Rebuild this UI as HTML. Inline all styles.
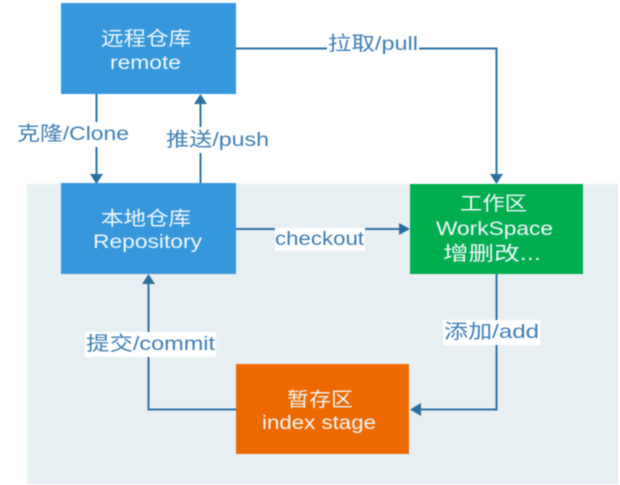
<!DOCTYPE html>
<html>
<head>
<meta charset="utf-8">
<style>
html,body{margin:0;padding:0;background:#fff}
svg{display:block;filter:blur(.5px)}
text{font-family:"Liberation Sans","Noto Sans CJK SC",sans-serif;font-size:19.500px;text-anchor:start}
.n{fill:#f0f6fb}
.l{fill:#3f7fb5}
</style>
</head>
<body>
<svg width="620" height="485" viewBox="0 0 620 485" xmlns="http://www.w3.org/2000/svg">
<rect width="620" height="485" fill="#fff"/>
<rect x="27" y="184" width="591" height="300" fill="#e8eff3"/>

<rect x="61" y="3" width="175" height="91" fill="#3797dc"/>
<rect x="61" y="183" width="175" height="91" fill="#3797dc"/>
<rect x="410" y="184" width="173" height="90" fill="#00ae50"/>
<rect x="236" y="364" width="173" height="90" fill="#ec6a00"/>

<g fill="none" stroke="#2f72a6" stroke-width="2">
<path d="M236 48.500H496.500V176"/>
<path d="M96.500 94V176"/>
<path d="M200.500 183V102"/>
<path d="M236 229H403"/>
<path d="M496.500 274V409.500H418"/>
<path d="M236 409.500H148.500V282"/>
</g>
<g fill="#2b6f9f">
<polygon points="496.500,184 490,174 503,174"/>
<polygon points="96.500,184 90,174 103,174"/>
<polygon points="200.500,94 194,104 207,104"/>
<polygon points="410,229 399,223 399,235"/>
<polygon points="410,409.500 421,403 421,416"/>
<polygon points="148.500,274 142,284 155,284"/>
</g>

<rect x="16" y="122" width="114" height="25" fill="#fff"/>
<rect x="165" y="127" width="106" height="26" fill="#fff"/>
<rect x="327" y="32" width="92" height="24" fill="#fff"/>
<rect x="275" y="228" width="90" height="23" fill="#fff"/>
<rect x="85" y="332" width="131" height="25" fill="#fff"/>
<rect x="443" y="320" width="97" height="25" fill="#fff"/>

<text class="n" x="101" y="45" textLength="90" lengthAdjust="spacingAndGlyphs">远程仓库</text>
<text class="n" x="110" y="69" textLength="71" lengthAdjust="spacingAndGlyphs">remote</text>
<text class="n" x="101" y="225" textLength="90" lengthAdjust="spacingAndGlyphs">本地仓库</text>
<text class="n" x="93" y="248" textLength="109" lengthAdjust="spacingAndGlyphs">Repository</text>
<text class="n" x="460" y="210" textLength="67" lengthAdjust="spacingAndGlyphs">工作区</text>
<text class="n" x="436" y="235" textLength="117" lengthAdjust="spacingAndGlyphs">WorkSpace</text>
<text class="n" x="443" y="260" textLength="98" lengthAdjust="spacingAndGlyphs">增删改...</text>
<text class="n" x="287" y="406" textLength="66" lengthAdjust="spacingAndGlyphs">暂存区</text>
<text class="n" x="262" y="429" textLength="114" lengthAdjust="spacingAndGlyphs">index stage</text>

<text class="l" x="17" y="140" textLength="112" lengthAdjust="spacingAndGlyphs">克隆/Clone</text>
<text class="l" x="166" y="146" textLength="103" lengthAdjust="spacingAndGlyphs">推送/push</text>
<text class="l" x="328" y="50" textLength="90" lengthAdjust="spacingAndGlyphs">拉取/pull</text>
<text class="l" x="275" y="245" textLength="89" lengthAdjust="spacingAndGlyphs">checkout</text>
<text class="l" x="86" y="350" textLength="129" lengthAdjust="spacingAndGlyphs">提交/commit</text>
<text class="l" x="444" y="338" textLength="95" lengthAdjust="spacingAndGlyphs">添加/add</text>
</svg>
</body>
</html>
